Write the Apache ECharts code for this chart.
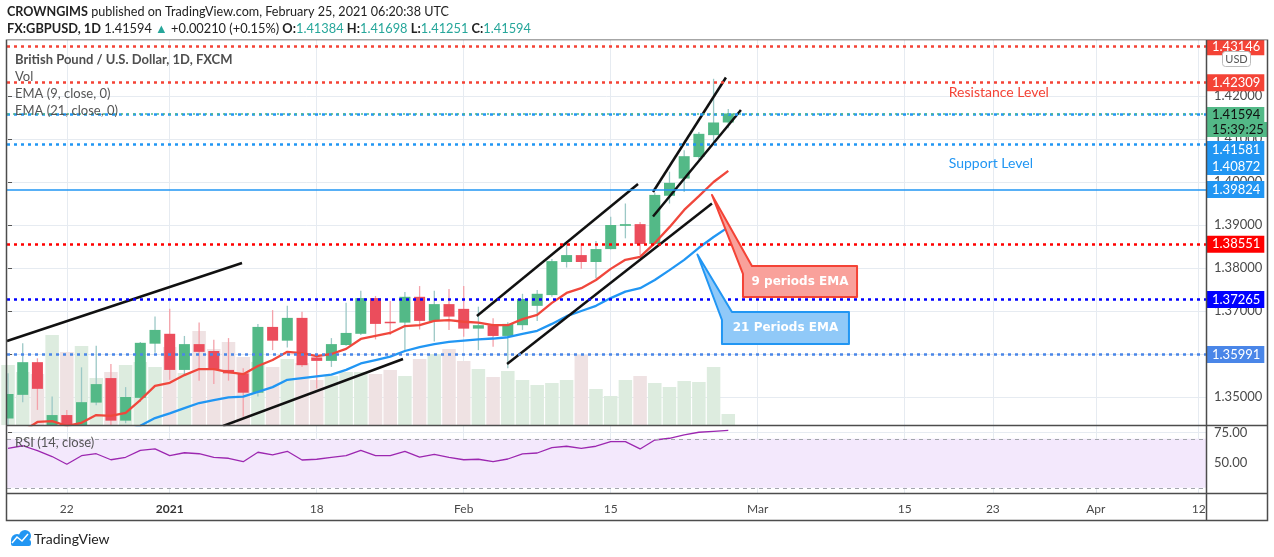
<!DOCTYPE html>
<html><head><meta charset="utf-8">
<script src="https://cdn.jsdelivr.net/npm/echarts@6/dist/echarts.min.js"></script>
<style>html,body{margin:0;padding:0;background:#fff;}#c{width:1274px;height:557px;}</style>
</head><body><div id="c"></div>
<script>
// ---------- data ----------
const holidays = ['2020-12-25', '2021-01-01'];
const axisStart = '2020-12-16', axisEnd = '2021-04-12';
const open  = [1.3450,1.3505,1.3581,1.3400,1.3458,1.3390,1.3487,1.3544,1.3445,1.3498,1.3624,1.3647,1.3563,1.3623,1.3607,1.3563,1.3555,1.3510,1.3663,1.3631,1.3684,1.3592,1.3584,1.3621,1.3647,1.3730,1.3675,1.3673,1.3733,1.3677,1.3716,1.3705,1.3659,1.3667,1.3642,1.3667,1.3712,1.3737,1.3814,1.3830,1.3814,1.3844,1.3898,1.3902,1.3856,1.3968,1.4008,1.4058,1.4109,1.41384];
const high  = [1.3555,1.3625,1.3590,1.3501,1.3470,1.3569,1.3619,1.3577,1.3523,1.3628,1.3687,1.3705,1.3642,1.3673,1.3633,1.3637,1.3567,1.3670,1.3702,1.3712,1.3698,1.3600,1.3637,1.3719,1.3747,1.3735,1.3723,1.3744,1.3758,1.3747,1.3751,1.3758,1.3710,1.3683,1.3674,1.3740,1.3749,1.3821,1.3861,1.3857,1.3863,1.3919,1.3950,1.3907,1.3975,1.4024,1.4074,1.4116,1.4240,1.41698];
const low   = [1.3420,1.3488,1.3470,1.3200,1.3350,1.3360,1.3481,1.3425,1.3439,1.3489,1.3603,1.3540,1.3551,1.3538,1.3530,1.3538,1.3454,1.3501,1.3609,1.3615,1.3570,1.3520,1.3570,1.3619,1.3644,1.3634,1.3644,1.3609,1.3657,1.3629,1.3656,1.3640,1.3609,1.3617,1.3567,1.3656,1.3677,1.3733,1.3801,1.3798,1.3776,1.3843,1.3869,1.3830,1.3853,1.3950,1.3977,1.4053,1.4090,1.41251];
const close = [1.3507,1.3581,1.3519,1.3458,1.3390,1.3488,1.3530,1.3445,1.3500,1.3626,1.3656,1.3563,1.3623,1.3605,1.3563,1.3555,1.3510,1.3663,1.3631,1.3684,1.3574,1.3584,1.3623,1.3649,1.3730,1.3670,1.3673,1.3733,1.3677,1.3716,1.3687,1.3659,1.3667,1.3642,1.3670,1.3728,1.3740,1.3816,1.3830,1.3814,1.3844,1.3900,1.3902,1.3856,1.3970,1.3998,1.4060,1.4112,1.41384,1.41594];
const volume = [60,53,51,90,73,79,47,53,60,63,58,78,52,94,76,83,68,63,58,66,62,45,49,53,53,51,55,49,66,71,76,64,56,48,54,45,40,42,45,70,36,29,45,49,42,38,44,43,58,11];
const ema9  = [1.3405,1.3420,1.3442,1.3444,1.3433,1.3440,1.3458,1.3456,1.3463,1.3493,1.3526,1.3533,1.3551,1.3565,1.3565,1.3558,1.3553,1.3572,1.3586,1.3605,1.3602,1.3595,1.3600,1.3612,1.3635,1.3642,1.3649,1.3665,1.3667,1.3677,1.3679,1.3675,1.3673,1.3667,1.3667,1.3681,1.3691,1.3719,1.3742,1.3753,1.3772,1.3798,1.3819,1.3826,1.3858,1.3895,1.3935,1.3967,1.4000,1.4026];
const ema21 = [1.3380,1.3385,1.3390,1.3395,1.3398,1.3402,1.3408,1.3413,1.3420,1.3433,1.3451,1.3462,1.3474,1.3486,1.3493,1.3499,1.3501,1.3512,1.3523,1.3540,1.3544,1.3548,1.3552,1.3563,1.3578,1.3586,1.3594,1.3607,1.3616,1.3623,1.3628,1.3631,1.3634,1.3636,1.3639,1.3647,1.3654,1.3670,1.3688,1.3700,1.3712,1.3730,1.3745,1.3753,1.3772,1.3795,1.3819,1.3847,1.3872,1.3895];
const rsi   = [62.2,64.3,60.4,55.5,49.2,56.2,57.8,52.9,54.9,60.6,61.7,56.2,58.6,57.8,54.9,54.1,51.3,59.0,56.8,59.8,52.7,53.3,54.9,56.2,60.6,56.2,56.2,59.8,55.1,57.3,54.9,52.9,53.3,51.3,53.5,57.6,58.4,62.7,63.9,62.2,63.9,67.6,67.6,61.7,69.0,70.4,73.1,75.3,76.1,76.9];
const tickDates  = ['2020-12-22','2021-01-04','2021-01-18','2021-02-01','2021-02-15','2021-03-01','2021-03-15','2021-03-23','2021-04-01','2021-04-12'];
const tickLabels = ['22','2021','18','Feb','15','Mar','15','23','Apr','12'];
const priceTicks = [1.35,1.36,1.37,1.38,1.39,1.40,1.41,1.42];
const rsiTicks = [50, 75];
const levels = [1.43146, 1.42309, 1.41581, 1.40872, 1.39824, 1.38551, 1.37265, 1.35991];
// drawings, in (bar index, price)
const trendLines = [
  [[-0.07,1.36302],[15.92,1.38116]],
  [[14.63,1.34326],[26.87,1.35884]],
  [[31.90,1.36884],[42.86,1.39953]],
  [[33.95,1.35767],[47.89,1.39500]],
  [[43.88,1.39767],[48.84,1.42430]],
  [[43.88,1.39198],[49.86,1.41674]]
];
const callouts = [
  {text:'9 periods EMA', center:[53.88,1.37686],
   points:[[47.89,1.39698],[50.61,1.38047],[57.76,1.38047],[57.76,1.37326],[50.00,1.37326],[50.00,1.37861]]},
  {text:'21 Periods EMA', center:[52.89,1.36605],
   points:[[46.90,1.38314],[49.25,1.36977],[57.21,1.36977],[57.21,1.36233],[48.57,1.36233],[48.57,1.36791]]}
];
const notes = [
  {text:'Resistance Level', at:[64.0,1.42093]},
  {text:'Support Level', at:[64.0,1.40419]}
];

// ---------- styles ----------
const FONT = 'Lato';
const UP = '#53b987', DOWN = '#eb4d5c', WICK_UP = '#9cc8c6', WICK_DOWN = '#f4a2aa';
const VOL_UP = '#ddecdf', VOL_DOWN = '#efe2e3';
const GRID = '#e6ebf1';
const levelStyle = [
  {color:'#f44336', type:[3,4], width:2.5, bg:'#f44336', off:0},
  {color:'#f44336', type:[3,4], width:2.5, bg:'#f44336', off:0},
  {color:'#2196f3', type:[3,4], width:2.5, bg:'#2196f3', off:35.5},
  {color:'#2196f3', type:[3,4], width:2.5, bg:'#2196f3', off:22},
  {color:'#2196f3', type:[2000,1], width:1.5, bg:'#2196f3', off:0},
  {color:'#ff0000', type:[3,4], width:2.5, bg:'#ff0000', off:0},
  {color:'#0000ff', type:[3,4], width:2.5, bg:'#0000ff', off:0},
  {color:'#4a86e8', type:[3,4], width:2.5, bg:'#4a86e8', off:0}
];
const calloutStyle = [
  {fill:'#f9a19b', stroke:'#f44336'},
  {fill:'#90c9f8', stroke:'#2196f3'}
];
const noteColor = ['#f44336', '#2196f3'];

// ---------- calendar ----------
function tradingDays(s, e, hol) {
  const out = []; let d = new Date(s + 'T00:00:00Z'); const end = new Date(e + 'T00:00:00Z');
  while (d <= end) {
    const w = d.getUTCDay(); const k = d.toISOString().slice(0, 10);
    if (w !== 0 && w !== 6 && hol.indexOf(k) < 0) out.push(k);
    d = new Date(d.getTime() + 86400000);
  }
  return out;
}
const axisDates = tradingDays(axisStart, axisEnd, holidays);
const tickIdx = tickDates.map(d => axisDates.indexOf(d));
const N = close.length;

const candleData = close.map((c, k) => [k, open[k], c, low[k], high[k]]);
const volData = volume.map((v, k) => ({value:[k, v], itemStyle:{color: close[k] >= open[k] ? VOL_UP : VOL_DOWN}}));

const xMin = -0.07, xMax = axisDates.length - 0.5;
const pMin = 1.34349, pMax = 1.43302;

const lastC = close[N-1], prevC = close[N-2];
const chg = lastC - prevC, pct = chg / prevC * 100;

const chart = echarts.init(document.getElementById('c'), null, {renderer:'canvas'});

const boxLabel = {padding:[1,4,1,5], fontSize:13, fontFamily:FONT, lineHeight:15};
const levelMarks = levels.map((v, k) => {
  const s = levelStyle[k];
  return {yAxis: v, lineStyle:{color:s.color, type:s.type, width:s.width},
    label:Object.assign({show:true, position:'end', distance:1, offset:[0, s.off], formatter: v.toFixed(5),
      color:'#fff', backgroundColor:s.bg}, boxLabel)};
});
levelMarks.push({yAxis: lastC, lineStyle:{color:UP, type:[2,4], width:1.5},
  label:{show:true, position:'end', distance:1, offset:[0, 8.5],
    formatter: '{p|' + lastC.toFixed(5) + '}\n{t|15:39:25}',
    rich:{p:Object.assign({color:'#111', backgroundColor:UP}, boxLabel),
          t:Object.assign({color:'#111', backgroundColor:UP}, boxLabel)}}});

const option = {
  backgroundColor:'#fff',
  animation:false,
  grid:[
    {left:7, right:68, top:40, height:385},
    {left:7, right:68, top:426, height:67}
  ],
  xAxis:[
    {type:'value', gridIndex:0, min:xMin, max:xMax, axisLine:{show:false}, axisLabel:{show:false},
     axisTick:{show:false, customValues:tickIdx}, splitLine:{show:true, lineStyle:{color:GRID}}},
    {type:'value', gridIndex:1, min:xMin, max:xMax, axisLine:{show:false},
     axisTick:{show:false, customValues:tickIdx}, splitLine:{show:true, lineStyle:{color:GRID}},
     axisLabel:{show:true, customValues:tickIdx, margin:10, color:'#4a4a4a', fontSize:12, fontFamily:FONT,
       formatter: v => { const j = tickIdx.indexOf(Math.round(v)); const t = tickLabels[j] || '';
         return /^\d{4}$/.test(t) ? '{y|' + t + '}' : t; },
       rich:{y:{fontWeight:'bold', fontSize:12, fontFamily:FONT, color:'#333'}}}}
  ],
  yAxis:[
    {type:'value', gridIndex:0, position:'right', min:pMin, max:pMax,
     axisLine:{show:false}, axisTick:{show:true, length:4, customValues:priceTicks, lineStyle:{color:'#555'}},
     splitLine:{show:true, lineStyle:{color:GRID}},
     axisLabel:{customValues:priceTicks, formatter: v => v.toFixed(5), color:'#4a4a4a', fontSize:13, fontFamily:FONT, margin:8}},
    {type:'value', gridIndex:0, min:0, max:385, show:false},
    {type:'value', gridIndex:1, position:'right', min:25.79, max:80.4,
     axisLine:{show:false}, axisTick:{show:true, length:4, customValues:rsiTicks, lineStyle:{color:'#555'}},
     splitLine:{show:true, lineStyle:{color:GRID}},
     axisLabel:{customValues:rsiTicks, formatter: v => v.toFixed(2), color:'#4a4a4a', fontSize:13, fontFamily:FONT, margin:8}}
  ],
  series:[
    {name:'Vol', type:'bar', xAxisIndex:0, yAxisIndex:1, data:volData, barWidth:13.5, z:1, silent:true},
    {name:'Candles', type:'custom', xAxisIndex:0, yAxisIndex:0, data:candleData, encode:{x:0, y:[1,2,3,4]}, z:2,
     renderItem:(params, api) => {
       const i = api.value(0), o = api.value(1), c = api.value(2), l = api.value(3), h = api.value(4);
       const up = c >= o; const cs = params.coordSys;
       const po = api.coord([i, o]), pc = api.coord([i, c]), pl = api.coord([i, l]), ph = api.coord([i, h]);
       const x = po[0]; const w = 11;
       let top = Math.min(po[1], pc[1]), bot = Math.max(po[1], pc[1]);
       if (bot - top < 1.5) bot = top + 1.5;
       const cy = y => Math.max(cs.y, Math.min(cs.y + cs.height, y));
       const ch = [];
       if (x >= cs.x) ch.push({type:'line', shape:{x1:x, y1:cy(ph[1]), x2:x, y2:cy(pl[1])}, style:{stroke: up ? WICK_UP : WICK_DOWN, lineWidth:1.3}});
       const r = echarts.graphic.clipRectByRect({x:x - w/2, y:top, width:w, height:bot - top}, cs);
       if (r) ch.push({type:'rect', shape:r, style:{fill: up ? UP : DOWN}});
       return {type:'group', children:ch};
     }},
    {name:'EMA21', type:'line', xAxisIndex:0, yAxisIndex:0, data:ema21.map((v,k)=>[k,v]), showSymbol:false, z:3,
     lineStyle:{color:'#2196f3', width:2.3}, itemStyle:{color:'#2196f3'}, silent:true},
    {name:'EMA9', type:'line', xAxisIndex:0, yAxisIndex:0, data:ema9.map((v,k)=>[k,v]), showSymbol:false, z:3,
     lineStyle:{color:'#f0473c', width:2.3}, itemStyle:{color:'#f0473c'}, silent:true},
    ...trendLines.map(t => ({type:'line', xAxisIndex:0, yAxisIndex:0, data:t, showSymbol:false, z:4, silent:true,
      lineStyle:{color:'#111', width:2.5}, itemStyle:{color:'#111'}})),
    {name:'Levels', type:'line', xAxisIndex:0, yAxisIndex:0, data:[], z:5, silent:true,
     markLine:{symbol:['none','none'], precision:6, silent:true, animation:false, data:levelMarks}},
    {name:'Callouts', type:'custom', xAxisIndex:0, yAxisIndex:0, data:callouts.map(c => c.center), z:6, silent:true,
     renderItem:(params, api) => {
       const c = callouts[params.dataIndex]; const st = calloutStyle[params.dataIndex];
       const pts = c.points.map(p => api.coord(p)); const ctr = api.coord(c.center);
       return {type:'group', children:[
         {type:'polygon', shape:{points:pts}, style:{fill:st.fill, stroke:st.stroke, lineWidth:2, lineJoin:'round'}},
         {type:'text', style:{text:c.text, x:ctr[0], y:ctr[1], align:'center', verticalAlign:'middle', fill:'#fff',
           fontSize:12, fontWeight:'bold', fontFamily:'DejaVu Sans'}}
       ]};
     }},
    {name:'Notes', type:'custom', xAxisIndex:0, yAxisIndex:0, data:notes.map(n => n.at), z:6, silent:true,
     renderItem:(params, api) => {
       const n = notes[params.dataIndex]; const p = api.coord(n.at);
       return {type:'text', style:{text:n.text, x:p[0], y:p[1], align:'left', verticalAlign:'middle',
         fill:noteColor[params.dataIndex], fontSize:14, fontFamily:FONT}};
     }},
    {name:'RSI', type:'line', xAxisIndex:1, yAxisIndex:2, data:rsi.map((v,k)=>[k,v]), showSymbol:false, z:3,
     lineStyle:{color:'#9c27b0', width:1.3}, itemStyle:{color:'#9c27b0'}, silent:true,
     markArea:{silent:true, itemStyle:{color:'#f3e8fc'}, data:[[{yAxis:30},{yAxis:70}]]},
     markLine:{symbol:['none','none'], precision:2, silent:true, label:{show:false},
       data:[{yAxis:70},{yAxis:30}], lineStyle:{color:'#a3a6ad', type:[4,4], width:1}}}
  ],
  graphic:[
    {type:'rect', shape:{x:0, y:0, width:1274, height:39.5}, style:{fill:'#fff'}, z:100},
    {type:'text', x:7, y:12, z:101, style:{
      text:'{b|CROWNGIMS} published on TradingView.com, February 25, 2021 06:20:38 UTC',
      fontSize:12.6, fontFamily:FONT, fill:'#222', verticalAlign:'middle',
      rich:{b:{fontWeight:'bold', fontSize:12.6, fontFamily:FONT, fill:'#222'}}}},
    {type:'text', x:7, y:29, z:101, style:{
      text:'{b|FX:GBPUSD, 1D} ' + lastC.toFixed(5) + ' {g|▲} +' + chg.toFixed(5) + ' (+' + pct.toFixed(2) + '%) {b|O:}{g|' + open[N-1].toFixed(5) + '} {b|H:}{g|' + high[N-1].toFixed(5) + '} {b|L:}{g|' + low[N-1].toFixed(5) + '} {b|C:}{g|' + lastC.toFixed(5) + '}',
      fontSize:12.8, fontFamily:FONT, fill:'#222', verticalAlign:'middle',
      rich:{b:{fontWeight:'bold', fontSize:12.8, fontFamily:FONT, fill:'#222'},
            g:{fontSize:12.8, fontFamily:FONT, fill:'#26a69a'}}}},
    // frame & separators
    {type:'rect', shape:{x:6.5, y:39.5, width:1261, height:481}, style:{fill:null, stroke:'#4d4d4d', lineWidth:1.5}, z:90},
    {type:'line', shape:{x1:7, y1:425.5, x2:1267, y2:425.5}, style:{stroke:'#4d4d4d', lineWidth:1.5}, z:90},
    {type:'line', shape:{x1:7, y1:493.5, x2:1267, y2:493.5}, style:{stroke:'#4d4d4d', lineWidth:1.5}, z:90},
    {type:'line', shape:{x1:1206.5, y1:40, x2:1206.5, y2:520}, style:{stroke:'#4d4d4d', lineWidth:1.5}, z:90},
    // pane legends
    {type:'text', x:15, y:60, z:101, style:{text:'British Pound / U.S. Dollar, 1D, FXCM', fontSize:13, fontWeight:'bold', fontFamily:FONT, fill:'#4f4f4f', verticalAlign:'middle'}},
    {type:'text', x:15, y:77, z:101, style:{text:'Vol', fontSize:13, fontFamily:FONT, fill:'#555', verticalAlign:'middle'}},
    {type:'text', x:15, y:94, z:101, style:{text:'EMA (9, close, 0)', fontSize:13, fontFamily:FONT, fill:'#555', verticalAlign:'middle'}},
    {type:'text', x:15, y:111, z:101, style:{text:'EMA (21, close, 0)', fontSize:13, fontFamily:FONT, fill:'#555', verticalAlign:'middle'}},
    {type:'text', x:15, y:443, z:101, style:{text:'RSI (14, close)', fontSize:13, fontFamily:FONT, fill:'#555', verticalAlign:'middle'}},
    // USD badge
    {type:'rect', shape:{x:1222.5, y:51.5, width:28, height:15, r:3}, style:{fill:'#fff', stroke:'#bbb', lineWidth:1}, z:101},
    {type:'text', x:1236.5, y:59, z:102, style:{text:'USD', fontSize:11, fontFamily:FONT, fill:'#555', align:'center', verticalAlign:'middle'}},
    // footer logo
    {type:'circle', shape:{cx:17, cy:540, r:6}, style:{fill:'#2196f3'}, z:101},
    {type:'circle', shape:{cx:25, cy:536, r:6}, style:{fill:'#2196f3'}, z:101},
    {type:'rect', shape:{x:11, y:540, width:20, height:6, r:2}, style:{fill:'#2196f3'}, z:101},
    {type:'polyline', shape:{points:[[12,543],[17,537],[22,541],[28,534]]}, style:{stroke:'#fff', lineWidth:1.5, fill:null}, z:102},
    {type:'text', x:34, y:539, z:101, style:{text:'TradingView', fontSize:14, fontFamily:FONT, fill:'#222', verticalAlign:'middle'}}
  ]
};
chart.setOption(option);
</script>
</body></html>
